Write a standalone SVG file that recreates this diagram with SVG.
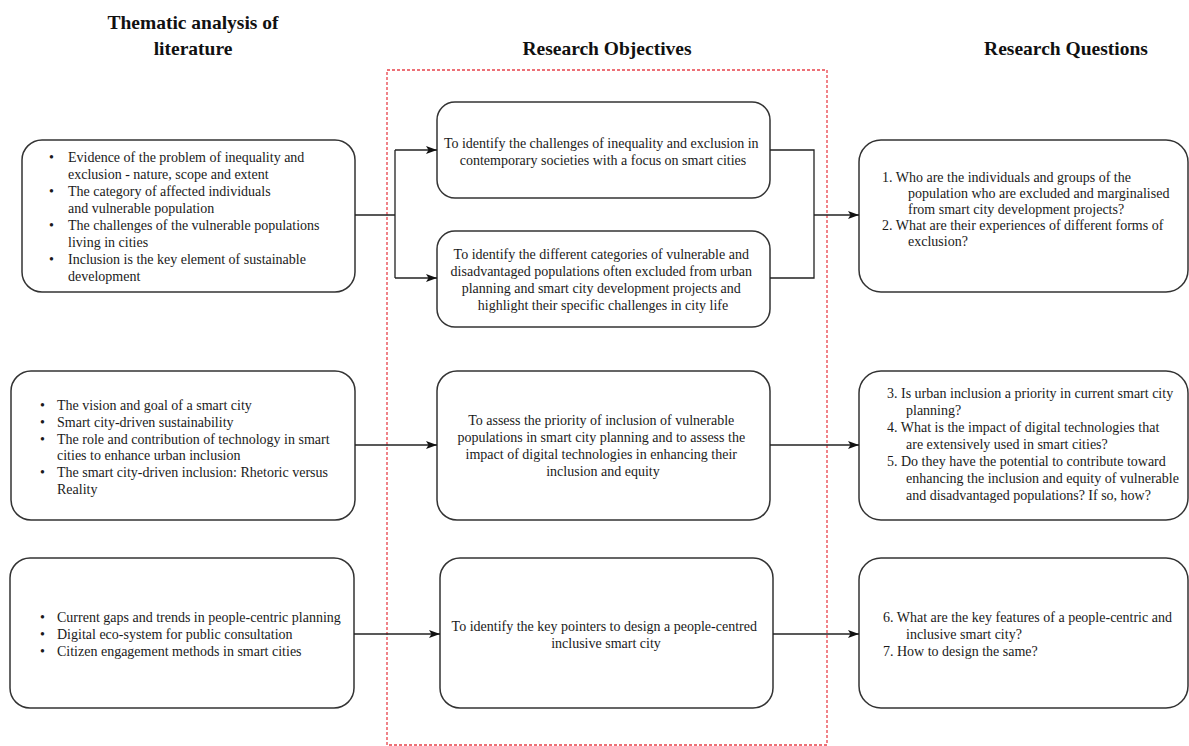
<svg xmlns="http://www.w3.org/2000/svg" width="1189" height="746" viewBox="0 0 1189 746">
  <defs>
    <marker id="arrow" markerUnits="userSpaceOnUse" markerWidth="11" markerHeight="8" refX="11" refY="4" orient="auto">
      <path d="M0,0 L11,4 L0,8 L2.5,4 z" fill="#111"/>
    </marker>
    <style>
      .box { fill: #fff; stroke: #333; stroke-width: 1.5; }
      .body { font-family: "Liberation Serif", "Times New Roman", serif; font-size: 14px; fill: #1a1a1a; }
      .mid { text-anchor: middle; }
      .head { font-family: "Liberation Serif", "Times New Roman", serif; font-size: 19.5px; font-weight: bold; fill: #111; text-anchor: middle; }
      .conn { fill: none; stroke: #222; stroke-width: 1.3; }
      .frame { fill: none; stroke: #e8424a; stroke-width: 1.3; stroke-dasharray: 3 2; }
    </style>
  </defs>

  <rect width="1189" height="746" fill="#fff"/>

  <!-- column headings -->
  <g id="headings">
    <text class="head" x="193" y="29">Thematic analysis of</text>
    <text class="head" x="193" y="55">literature</text>
    <text class="head" x="607" y="55">Research Objectives</text>
    <text class="head" x="1066" y="55">Research Questions</text>
  </g>

  <!-- dashed frame around the objectives column -->
  <rect class="frame" x="387" y="70" width="440" height="675"/>

  <!-- literature themes -->
  <g id="theme-1">
    <rect class="box" x="22" y="140" width="333" height="152" rx="20"/>
    <text class="body">
      <tspan x="49" y="162">•</tspan><tspan x="68" y="162">Evidence of the problem of inequality and</tspan>
      <tspan x="68" y="179">exclusion - nature, scope and extent</tspan>
      <tspan x="49" y="196">•</tspan><tspan x="68" y="196">The category of affected individuals</tspan>
      <tspan x="68" y="213">and vulnerable population</tspan>
      <tspan x="49" y="230">•</tspan><tspan x="68" y="230">The challenges of the vulnerable populations</tspan>
      <tspan x="68" y="247">living in cities</tspan>
      <tspan x="49" y="264">•</tspan><tspan x="68" y="264">Inclusion is the key element of sustainable</tspan>
      <tspan x="68" y="281">development</tspan>
    </text>
  </g>

  <g id="theme-2">
    <rect class="box" x="11" y="371" width="344" height="149" rx="20"/>
    <text class="body">
      <tspan x="40" y="410">•</tspan><tspan x="57" y="410">The vision and goal of a smart city</tspan>
      <tspan x="40" y="427">•</tspan><tspan x="57" y="427">Smart city-driven sustainability</tspan>
      <tspan x="40" y="444">•</tspan><tspan x="57" y="444">The role and contribution of technology in smart</tspan>
      <tspan x="57" y="460">cities to enhance urban inclusion</tspan>
      <tspan x="40" y="477">•</tspan><tspan x="57" y="477">The smart city-driven inclusion: Rhetoric versus</tspan>
      <tspan x="57" y="494">Reality</tspan>
    </text>
  </g>

  <g id="theme-3">
    <rect class="box" x="10" y="558" width="344" height="150" rx="20"/>
    <text class="body">
      <tspan x="40" y="622">•</tspan><tspan x="57" y="622">Current gaps and trends in people-centric planning</tspan>
      <tspan x="40" y="639">•</tspan><tspan x="57" y="639">Digital eco-system for public consultation</tspan>
      <tspan x="40" y="656">•</tspan><tspan x="57" y="656">Citizen engagement methods in smart cities</tspan>
    </text>
  </g>

  <!-- research objectives -->
  <g id="objective-1">
    <rect class="box" x="437" y="102" width="333" height="96" rx="18"/>
    <text class="body mid">
      <tspan x="603" y="148">To identify the challenges of inequality and exclusion in</tspan>
      <tspan x="603" y="165">contemporary societies with a focus on smart cities</tspan>
    </text>
  </g>

  <g id="objective-2">
    <rect class="box" x="437" y="231" width="333" height="96" rx="18"/>
    <text class="body mid">
      <tspan x="603" y="259">To identify the different categories of vulnerable and</tspan>
      <tspan x="603" y="276">disadvantaged populations often excluded from urban</tspan>
      <tspan x="603" y="293">planning and smart city development projects and</tspan>
      <tspan x="603" y="310">highlight their specific challenges in city life</tspan>
    </text>
  </g>

  <g id="objective-3">
    <rect class="box" x="437" y="371" width="333" height="149" rx="20"/>
    <text class="body mid">
      <tspan x="603" y="425">To assess the priority of inclusion of vulnerable</tspan>
      <tspan x="603" y="442">populations in smart city planning and to assess the</tspan>
      <tspan x="603" y="459">impact of digital technologies in enhancing their</tspan>
      <tspan x="603" y="476">inclusion and equity</tspan>
    </text>
  </g>

  <g id="objective-4">
    <rect class="box" x="440" y="558" width="333" height="150" rx="20"/>
    <text class="body mid">
      <tspan x="606" y="631">To identify the key pointers to design a people-centred</tspan>
      <tspan x="606" y="648">inclusive smart city</tspan>
    </text>
  </g>

  <!-- research questions -->
  <g id="questions-1">
    <rect class="box" x="859" y="140" width="329" height="152" rx="22"/>
    <text class="body">
      <tspan x="882" y="182">1. Who are the individuals and groups of the</tspan>
      <tspan x="908" y="198">population who are excluded and marginalised</tspan>
      <tspan x="908" y="214">from smart city development projects?</tspan>
      <tspan x="882" y="230">2. What are their experiences of different forms of</tspan>
      <tspan x="908" y="246">exclusion?</tspan>
    </text>
  </g>

  <g id="questions-2">
    <rect class="box" x="859" y="371" width="329" height="149" rx="22"/>
    <text class="body">
      <tspan x="887" y="398">3. Is urban inclusion a priority in current smart city</tspan>
      <tspan x="906" y="415">planning?</tspan>
      <tspan x="887" y="432">4. What is the impact of digital technologies that</tspan>
      <tspan x="906" y="449">are extensively used in smart cities?</tspan>
      <tspan x="887" y="466">5. Do they have the potential to contribute toward</tspan>
      <tspan x="906" y="483">enhancing the inclusion and equity of vulnerable</tspan>
      <tspan x="906" y="500">and disadvantaged populations? If so, how?</tspan>
    </text>
  </g>

  <g id="questions-3">
    <rect class="box" x="859" y="558" width="329" height="150" rx="22"/>
    <text class="body">
      <tspan x="883" y="622">6. What are the key features of a people-centric and</tspan>
      <tspan x="906" y="639">inclusive smart city?</tspan>
      <tspan x="883" y="656">7. How to design the same?</tspan>
    </text>
  </g>

  <!-- connectors -->
  <g id="connectors">
    <path class="conn" d="M355,215 H395 M395,150 V278"/>
    <path class="conn" d="M395,150 H437" marker-end="url(#arrow)"/>
    <path class="conn" d="M395,278 H437" marker-end="url(#arrow)"/>
    <path class="conn" d="M770,150 H814 V278 H770"/>
    <path class="conn" d="M814,215 H859" marker-end="url(#arrow)"/>
    <path class="conn" d="M355,445 H437" marker-end="url(#arrow)"/>
    <path class="conn" d="M770,445 H859" marker-end="url(#arrow)"/>
    <path class="conn" d="M354,634 H440" marker-end="url(#arrow)"/>
    <path class="conn" d="M773,634 H859" marker-end="url(#arrow)"/>
  </g>
</svg>
